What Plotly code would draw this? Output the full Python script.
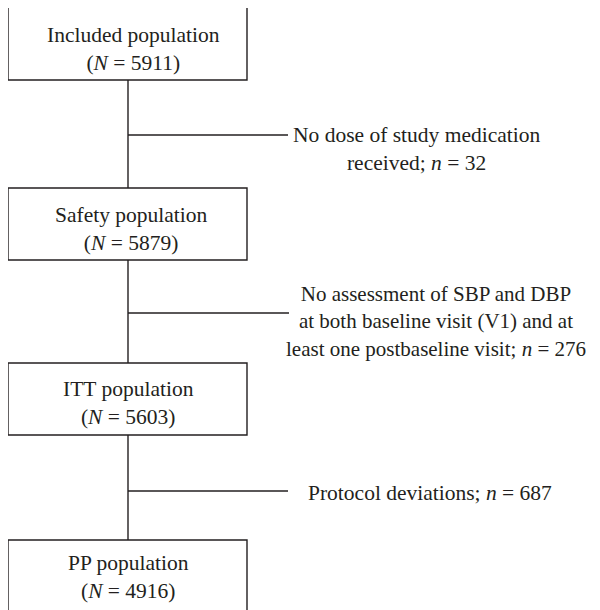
import plotly.graph_objects as go

# ---- data ----
stage_names = ["Included population", "Safety population", "ITT population", "PP population"]
stage_counts = [5911, 5879, 5603, 4916]
exclusion_texts = [
    "No dose of study medication<br>received; <i>n</i> = ",
    "No assessment of SBP and DBP<br>at both baseline visit (V1) and at<br>least one postbaseline visit; <i>n</i> = ",
    "Protocol deviations; <i>n</i> = ",
]
exclusion_counts = [32, 276, 687]

# ---- layout (screen pixel coordinates) ----
box_x0, box_x1 = 8, 247
box_tops = [7, 188, 363, 540]
box_bottoms = [80, 260, 435, 612]
box_text_x = [133, 131, 128, 128]
box_text_y = [49, 229, 402.5, 577]
spine_x = 128
branch_y = [135, 313, 491]
branch_end = [288, 289, 288]
label_x = [416.5, 436, 430]
label_y = [149, 321, 493]
label_size = [21.5, 21, 21.5]

INK = "#231f20"
FONT = "Liberation Serif"
FS = 21.5

fig = go.Figure()

# connecting lines drawn as a trace
xs, ys = [], []
for i in range(len(stage_names) - 1):
    xs += [spine_x, spine_x, None]
    ys += [box_bottoms[i], box_tops[i + 1], None]
    xs += [spine_x, branch_end[i], None]
    ys += [branch_y[i], branch_y[i], None]
fig.add_trace(go.Scatter(x=xs, y=ys, mode="lines",
                         line=dict(color=INK, width=1.4),
                         hoverinfo="skip", showlegend=False))

shapes = []
annotations = []
for i, (name, n) in enumerate(zip(stage_names, stage_counts)):
    shapes.append(dict(type="rect", xref="x", yref="y",
                       x0=box_x0, x1=box_x1, y0=box_tops[i], y1=box_bottoms[i],
                       line=dict(color=INK, width=1.4), fillcolor="white"))
    annotations.append(dict(
        x=box_text_x[i], y=box_text_y[i],
        xref="x", yref="y", xanchor="center", yanchor="middle", showarrow=False,
        align="center", text=f"{name}<br>(<i>N</i> = {n})",
        font=dict(family=FONT, size=FS, color=INK)))

for i, (t, n) in enumerate(zip(exclusion_texts, exclusion_counts)):
    annotations.append(dict(
        x=label_x[i], y=label_y[i], xref="x", yref="y",
        xanchor="center", yanchor="middle", showarrow=False, align="center",
        text=f"{t}{n}", font=dict(family=FONT, size=label_size[i], color=INK)))

# page body has an 8px margin, so offset the ranges to keep screen coordinates
fig.update_layout(
    width=600, height=610,
    margin=dict(l=0, r=0, t=0, b=0),
    paper_bgcolor="white", plot_bgcolor="white",
    xaxis=dict(range=[8, 608], visible=False, fixedrange=True),
    yaxis=dict(range=[618, 8], visible=False, fixedrange=True),
    shapes=shapes, annotations=annotations,
)

fig.write_html("out.html")
